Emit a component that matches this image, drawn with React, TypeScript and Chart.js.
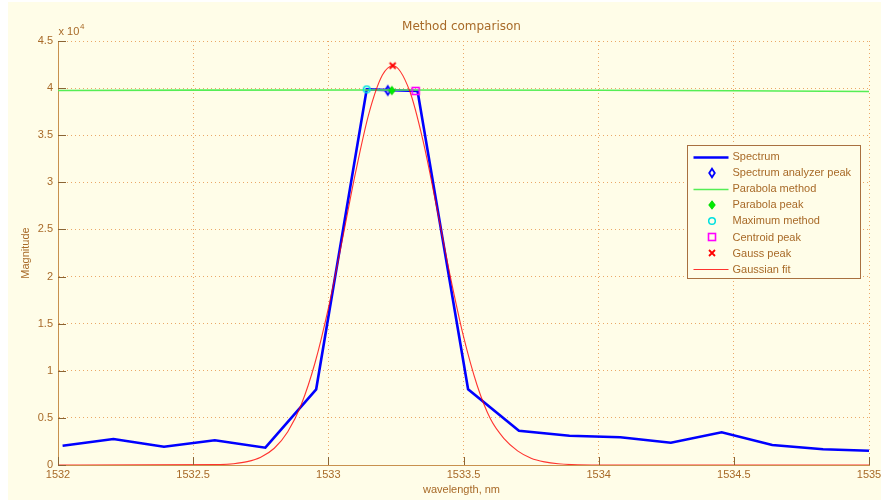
import React, { useEffect, useRef } from 'react';
import { Chart, registerables } from 'chart.js';

Chart.register(...registerables);

// ---------- data ----------
const spectrumX = [1532.017, 1532.205, 1532.392, 1532.58, 1532.767, 1532.955, 1533.142, 1533.33, 1533.517, 1533.705, 1533.892, 1534.08, 1534.267, 1534.455, 1534.642, 1534.83, 1535.0];
const spectrumY = [2050, 2760, 1940, 2620, 1840, 8030, 39870, 39700, 8030, 3640, 3100, 2950, 2370, 3470, 2120, 1670, 1520];

const parabolaX = [1532, 1532.5, 1533.2, 1534, 1534.5, 1535];
const parabolaY = [39740, 39790, 39800, 39770, 39720, 39640];

const gaussX = [1532, 1532.6, 1532.65, 1532.7, 1532.75, 1532.8, 1532.85, 1532.9, 1532.95, 1533.0, 1533.05, 1533.1, 1533.15, 1533.2, 1533.24, 1533.3, 1533.35, 1533.4, 1533.45, 1533.5, 1533.55, 1533.6, 1533.65, 1533.7, 1533.75, 1533.8, 1533.85, 1533.9, 1534.0, 1535];
const gaussY = [0, 50, 140, 360, 830, 1780, 3530, 6420, 10770, 16630, 23640, 30940, 37290, 41380, 42380, 39770, 34450, 27480, 20180, 13640, 8490, 4870, 2800, 1500, 720, 330, 130, 45, 0, 0];

// peaks: analyzer, parabola, maximum, centroid, gauss
const peakX = [1533.22, 1533.235, 1533.142, 1533.323, 1533.238];
const peakY = [39750, 39740, 39870, 39700, 42380];

const legendLabels = ['Spectrum', 'Spectrum analyzer peak', 'Parabola method', 'Parabola peak', 'Maximum method', 'Centroid peak', 'Gauss peak', 'Gaussian fit'];

const xTicks = [1532, 1532.5, 1533, 1533.5, 1534, 1534.5, 1535];
const xTickLabels = ['1532', '1532.5', '1533', '1533.5', '1534', '1534.5', '1535'];
const yTicks = [0, 5000, 10000, 15000, 20000, 25000, 30000, 35000, 40000, 45000];
const yTickLabels = ['0', '0.5', '1', '1.5', '2', '2.5', '3', '3.5', '4', '4.5'];

// ---------- style ----------
const C = {
  bg: '#fffde8',
  text: '#a86a28',
  axis: '#c8914e',
  grid: '#eaa868',
  tick: '#8a6434',
  blue: '#0000ff',
  green: '#55ee55',
  red: 'rgba(255,0,0,0.8)',
};
const FONT = "'Liberation Sans', Arial, sans-serif";

function makeMarker(draw: (g: CanvasRenderingContext2D) => void) {
  const c = document.createElement('canvas');
  c.width = 14;
  c.height = 14;
  const g = c.getContext('2d')!;
  g.translate(7, 7);
  draw(g);
  return c;
}

export default function App() {
  const ref = useRef<HTMLCanvasElement>(null);

  useEffect(() => {
    const canvas = ref.current!;

    const diamond = (stroke: string, fill: string | null, lw: number, hw: number, hh: number) =>
      makeMarker((g) => {
        g.beginPath();
        g.moveTo(0, -hh);
        g.lineTo(hw, 0);
        g.lineTo(0, hh);
        g.lineTo(-hw, 0);
        g.closePath();
        if (fill) {
          g.fillStyle = fill;
          g.fill();
        }
        g.lineWidth = lw;
        g.strokeStyle = stroke;
        g.stroke();
      });
    const mAnalyzer = diamond(C.blue, null, 1.8, 2.8, 4.3);
    const mParabola = diamond('#00dd00', '#00ee00', 1.2, 3, 3.8);
    const mMax = makeMarker((g) => {
      g.beginPath();
      g.arc(0, 0, 3.3, 0, Math.PI * 2);
      g.lineWidth = 1.5;
      g.strokeStyle = '#00e0e0';
      g.stroke();
    });
    const mCentroid = makeMarker((g) => {
      g.lineWidth = 1.6;
      g.strokeStyle = '#ff00ff';
      g.strokeRect(-3.5, -3.5, 7, 7);
    });
    const mGauss = makeMarker((g) => {
      g.lineWidth = 1.8;
      g.strokeStyle = '#ff0000';
      g.beginPath();
      g.moveTo(-3, -3);
      g.lineTo(3, 3);
      g.moveTo(3, -3);
      g.lineTo(-3, 3);
      g.stroke();
    });
    const peakMarkers = [mAnalyzer, mParabola, mMax, mCentroid, mGauss];

    const pts = (xs: number[], ys: number[]) => xs.map((x, i) => ({ x, y: ys[i] }));
    const peakDs = (i: number, order: number) => ({
      label: legendLabels[[1, 3, 4, 5, 6][i]],
      data: [{ x: peakX[i], y: peakY[i] }],
      showLine: false,
      pointStyle: peakMarkers[i],
      pointRadius: 5,
      order,
    });

    const datasets: any[] = [
      { label: legendLabels[0], data: pts(spectrumX, spectrumY), borderColor: C.blue, borderWidth: 2.6, pointRadius: 0, order: 7 },
      peakDs(0, 6),
      { label: legendLabels[2], data: pts(parabolaX, parabolaY), borderColor: C.green, borderWidth: 1.6, pointRadius: 0, order: 5 },
      peakDs(1, 4),
      peakDs(2, 3),
      peakDs(3, 2),
      peakDs(4, 1),
      { label: legendLabels[7], data: pts(gaussX, gaussY), borderColor: C.red, borderWidth: 1.1, pointRadius: 0, cubicInterpolationMode: 'monotone', order: 0 },
    ];

    const legendKinds: any[] = [
      { line: C.blue, w: 2.6 },
      { marker: mAnalyzer },
      { line: C.green, w: 1.3 },
      { marker: mParabola },
      { marker: mMax },
      { marker: mCentroid },
      { marker: mGauss },
      { line: C.red, w: 1.1 },
    ];

    const deco = {
      id: 'deco',
      beforeDraw(chart: any) {
        const { ctx, width, height } = chart;
        ctx.save();
        ctx.fillStyle = C.bg;
        ctx.fillRect(0, 0, width, height);
        ctx.restore();
      },
      afterDraw(chart: any) {
        const { ctx, chartArea: a } = chart;
        const xs = chart.scales.x;
        const ys = chart.scales.y;
        ctx.save();
        // inward tick marks
        ctx.strokeStyle = C.tick;
        ctx.lineWidth = 1;
        ctx.beginPath();
        xTicks.forEach((v) => {
          const px = Math.round(xs.getPixelForValue(v)) + 0.5;
          ctx.moveTo(px, a.bottom);
          ctx.lineTo(px, a.bottom - 8);
        });
        yTicks.forEach((v) => {
          const py = Math.round(ys.getPixelForValue(v)) + 0.5;
          ctx.moveTo(a.left, py);
          ctx.lineTo(a.left + 8, py);
        });
        ctx.stroke();

        ctx.fillStyle = C.text;
        // title
        ctx.font = "12px 'DejaVu Sans', sans-serif";
        ctx.textAlign = 'center';
        ctx.textBaseline = 'alphabetic';
        ctx.fillText('Method comparison', (a.left + a.right) / 2 - 2, 28);
        // exponent
        ctx.font = `11px ${FONT}`;
        ctx.textAlign = 'left';
        ctx.fillText('x 10', a.left + 0.5, 33);
        ctx.font = `8px ${FONT}`;
        ctx.fillText('4', a.left + 22, 27);
        // axis titles
        ctx.font = `11px ${FONT}`;
        ctx.textAlign = 'center';
        ctx.textBaseline = 'middle';
        ctx.fillText('wavelength, nm', (a.left + a.right) / 2 - 2, 488);
        ctx.save();
        ctx.translate(18, (a.top + a.bottom) / 2);
        ctx.rotate(-Math.PI / 2);
        ctx.fillText('Magnitude', 0, 0);
        ctx.restore();

        // legend box
        const bx = Math.round(a.right - 182) + 0.5;
        const by = Math.round(a.top + 104) + 0.5;
        const bw = 173;
        const bh = 133;
        ctx.fillStyle = C.bg;
        ctx.fillRect(bx, by, bw, bh);
        ctx.strokeStyle = '#a87040';
        ctx.lineWidth = 1;
        ctx.strokeRect(bx, by, bw, bh);
        ctx.font = `11px ${FONT}`;
        ctx.textAlign = 'left';
        ctx.textBaseline = 'middle';
        legendLabels.forEach((lab, i) => {
          const y = by + 11 + i * 16.1;
          const k = legendKinds[i];
          if (k.line) {
            ctx.strokeStyle = k.line;
            ctx.lineWidth = k.w;
            ctx.beginPath();
            ctx.moveTo(bx + 6, Math.round(y) + 0.5);
            ctx.lineTo(bx + 41, Math.round(y) + 0.5);
            ctx.stroke();
          } else {
            ctx.drawImage(k.marker, Math.round(bx + 24 - 7), Math.round(y - 7));
          }
          ctx.fillStyle = C.text;
          ctx.fillText(lab, bx + 45, y + 0.5);
        });
        ctx.restore();
      },
    };

    const chart = new Chart(canvas, {
      type: 'line',
      data: { datasets },
      plugins: [deco],
      options: {
        animation: false,
        responsive: false,
        events: [],
        layout: { padding: { left: 0, right: 12, top: 39, bottom: 0 } },
        plugins: {
          legend: { display: false },
          tooltip: { enabled: false },
          title: { display: false },
        },
        scales: {
          x: {
            type: 'linear',
            min: 1532,
            max: 1535,
            afterBuildTicks: (s: any) => {
              s.ticks = xTicks.map((v) => ({ value: v }));
            },
            afterFit: (s: any) => {
              s.height = 35;
              s.paddingLeft = 0;
              s.paddingRight = 0;
            },
            ticks: {
              callback: (v: any) => xTickLabels[xTicks.indexOf(Number(v))] ?? String(v),
              color: C.text,
              font: { size: 11, family: FONT },
              padding: 3,
              maxRotation: 0,
              autoSkip: false,
            },
            grid: { color: C.grid, lineWidth: 1, drawTicks: false },
            border: { color: C.axis, width: 1, dash: [1, 3] },
          },
          y: {
            type: 'linear',
            min: 0,
            max: 45000,
            afterBuildTicks: (s: any) => {
              s.ticks = yTicks.map((v) => ({ value: v }));
            },
            afterFit: (s: any) => {
              s.width = 50;
              s.paddingTop = 0;
              s.paddingBottom = 0;
            },
            ticks: {
              callback: (v: any) => yTickLabels[yTicks.indexOf(Number(v))] ?? String(v),
              color: C.text,
              font: { size: 11, family: FONT },
              padding: 5,
              autoSkip: false,
            },
            grid: { color: C.grid, lineWidth: 1, drawTicks: false },
            border: { color: C.axis, width: 1, dash: [1, 3] },
          },
        },
      } as any,
    });

    return () => chart.destroy();
  }, []);

  return (
    <div style={{ position: 'fixed', left: 8, top: 2, width: 873, height: 498 }}>
      <canvas ref={ref} width={873} height={498} style={{ display: 'block' }} />
    </div>
  );
}
